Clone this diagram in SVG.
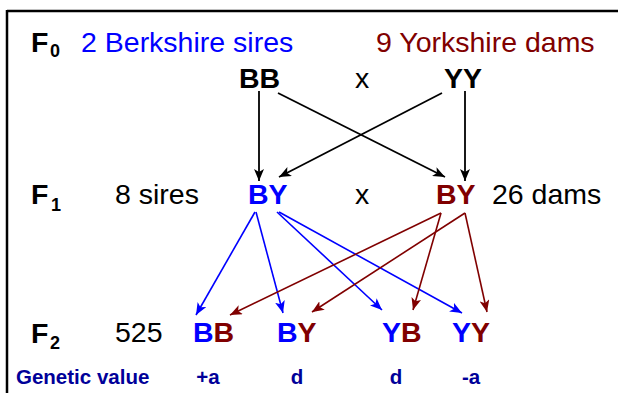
<svg xmlns="http://www.w3.org/2000/svg" width="618" height="393" viewBox="0 0 618 393">
<style>
text{font-family:"Liberation Sans",Arial,sans-serif}
.b{font-weight:bold}
.big{font-size:28.5px}
.sub{font-size:18px;font-weight:bold}
.blue{fill:#0000ff}
.red{fill:#800000}
.gv{font-size:20.5px;font-weight:bold;fill:#000099}
.lk{stroke:#000;stroke-width:1.8;fill:none}
.lb{stroke:#0000ff;stroke-width:1.6;fill:none}
.lr{stroke:#800000;stroke-width:1.6;fill:none}
</style>
<defs>
<marker id="ak" viewBox="0 0 12 10" refX="12" refY="5" markerWidth="12" markerHeight="10" orient="auto" markerUnits="userSpaceOnUse"><path d="M0,0 L12,5 L0,10 L3,5 Z" fill="#000"/></marker>
<marker id="ab" viewBox="0 0 12 10" refX="12" refY="5" markerWidth="12" markerHeight="10" orient="auto" markerUnits="userSpaceOnUse"><path d="M0,0 L12,5 L0,10 L3,5 Z" fill="#0000ff"/></marker>
<marker id="ar" viewBox="0 0 12 10" refX="12" refY="5" markerWidth="12" markerHeight="10" orient="auto" markerUnits="userSpaceOnUse"><path d="M0,0 L12,5 L0,10 L3,5 Z" fill="#800000"/></marker>
</defs>
<rect width="618" height="393" fill="#fff"/>
<g id="frame" stroke="#000" stroke-width="2.5">
<line x1="7" y1="11" x2="618" y2="11"/>
<line x1="7" y1="10" x2="7" y2="393"/>
</g>
<g id="labels">
<text x="31" y="52" class="b big">F</text><text x="50" y="57" class="sub">0</text>
<text x="81" y="52" class="big blue">2 Berkshire sires</text>
<text x="376" y="52" class="big red">9 Yorkshire dams</text>
<text x="31" y="204" class="b big">F</text><text x="51" y="211" class="sub">1</text>
<text x="115" y="204" class="big">8 sires</text>
<text x="492" y="204" class="big">26 dams</text>
<text x="31" y="343" class="b big">F</text><text x="50" y="349" class="sub">2</text>
<text x="115" y="342" class="big">525</text>
<text x="355" y="88" class="big">x</text>
<text x="355" y="204" class="big">x</text>
</g>
<g id="BB0"><text x="239" y="88" class="b big">BB</text></g>
<g id="YY0"><text x="444" y="88" class="b big">YY</text></g>
<g id="BY1s"><text x="248" y="204" class="b big blue">BY</text></g>
<g id="BY1d"><text x="436" y="204" class="b big red">BY</text></g>
<g id="BB2"><text x="193" y="342" class="b big"><tspan class="blue">B</tspan><tspan class="red">B</tspan></text></g>
<g id="BY2"><text x="277" y="342" class="b big"><tspan class="blue">B</tspan><tspan class="red">Y</tspan></text></g>
<g id="YB2"><text x="382" y="342" class="b big"><tspan class="blue">Y</tspan><tspan class="red">B</tspan></text></g>
<g id="YY2"><text x="452" y="342" class="b big"><tspan class="blue">Y</tspan><tspan class="red">Y</tspan></text></g>
<g id="genetic">
<text x="16" y="384" class="gv">Genetic value</text>
<text x="208" y="384" class="gv" text-anchor="middle">+a</text>
<text x="297" y="384" class="gv" text-anchor="middle">d</text>
<text x="396" y="384" class="gv" text-anchor="middle">d</text>
<text x="471" y="384" class="gv" text-anchor="middle">-a</text>
</g>
<g id="connectors">
<line class="lk" x1="259" y1="91" x2="259" y2="181" marker-end="url(#ak)"/>
<line class="lk" x1="278" y1="93" x2="445" y2="177" marker-end="url(#ak)"/>
<line class="lk" x1="442" y1="93" x2="279" y2="177" marker-end="url(#ak)"/>
<line class="lk" x1="465" y1="91" x2="465" y2="181" marker-end="url(#ak)"/>
<line class="lb" x1="255" y1="212" x2="196" y2="315" marker-end="url(#ab)"/>
<line class="lb" x1="256" y1="212" x2="283" y2="313" marker-end="url(#ab)"/>
<line class="lb" x1="277" y1="212" x2="382" y2="310" marker-end="url(#ab)"/>
<line class="lb" x1="279" y1="212" x2="462" y2="313" marker-end="url(#ab)"/>
<line class="lr" x1="441" y1="213" x2="230" y2="315" marker-end="url(#ar)"/>
<line class="lr" x1="441" y1="213" x2="413" y2="310" marker-end="url(#ar)"/>
<line class="lr" x1="465" y1="213" x2="312" y2="312" marker-end="url(#ar)"/>
<line class="lr" x1="465" y1="213" x2="487" y2="312" marker-end="url(#ar)"/>
</g>
</svg>
